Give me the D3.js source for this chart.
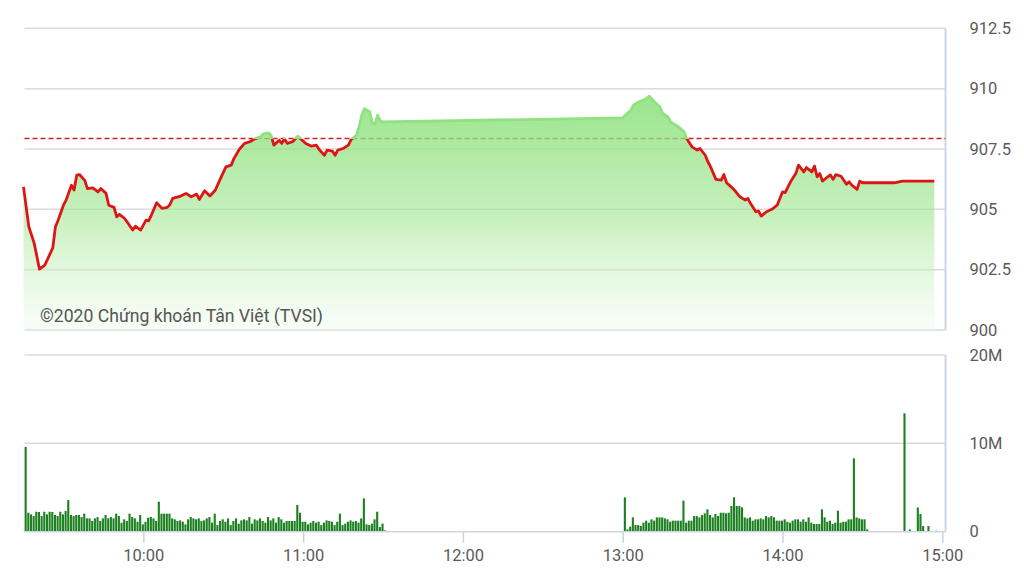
<!DOCTYPE html>
<html><head><meta charset="utf-8">
<script src="https://cdn.jsdelivr.net/npm/d3@7"></script>
<style>body{margin:0;background:#fff}svg{display:block;font-family:Roboto,"Noto Sans",sans-serif}</style>
</head><body><svg id="c" width="1024" height="576"></svg>
<script>
const priceTimes = ["09:15","09:17","09:19","09:21","09:23","09:26","09:27","09:28","09:30","09:31","09:33","09:34","09:35","09:36","09:38","09:39","09:41","09:43","09:44","09:46","09:47","09:49","09:50","09:51","09:53","09:56","09:57","09:59","10:01","10:02","10:03","10:05","10:07","10:09","10:10","10:11","10:14","10:16","10:18","10:20","10:21","10:23","10:25","10:27","10:29","10:31","10:33","10:34","10:36","10:38","10:40","10:42","10:44","10:45","10:47","10:48","10:49","10:51","10:52","10:53","10:54","10:56","10:58","10:59","11:01","11:03","11:05","11:06","11:08","11:09","11:11","11:12","11:13","11:15","11:17","11:18","11:20","11:21","11:22","11:23","11:25","11:26","11:27","11:28","11:29","11:30","13:00","13:03","13:04","13:06","13:09","13:10","13:12","13:14","13:15","13:17","13:18","13:21","13:23","13:24","13:26","13:28","13:29","13:31","13:32","13:33","13:35","13:37","13:38","13:39","13:41","13:42","13:44","13:46","13:47","13:48","13:50","13:51","13:52","13:54","13:56","13:58","14:00","14:01","14:03","14:05","14:06","14:08","14:09","14:11","14:12","14:13","14:14","14:15","14:17","14:18","14:19","14:20","14:22","14:24","14:25","14:26","14:28","14:29","14:30","14:42","14:45","14:57"];
const priceValues = [905.93,904.28,903.60,902.52,902.69,903.40,904.28,904.55,905.17,905.38,906.00,905.80,906.42,906.44,906.20,905.86,905.89,905.72,905.86,905.66,905.17,905.08,904.69,904.79,904.62,904.14,904.30,904.14,904.55,904.52,904.76,905.27,905.04,905.08,905.20,905.45,905.55,905.66,905.52,905.63,905.41,905.77,905.55,905.79,906.28,906.76,906.83,907.10,907.48,907.73,907.80,907.93,908.00,908.12,908.17,908.05,907.66,907.86,907.73,907.93,907.73,907.80,908.03,907.93,907.73,907.62,907.66,907.48,907.24,907.45,907.41,907.24,907.45,907.52,907.66,907.89,908.07,908.41,908.90,909.17,909.04,908.55,908.55,908.90,908.65,908.62,908.79,909.10,909.31,909.45,909.59,909.69,909.45,909.24,908.97,908.83,908.62,908.41,908.21,907.93,907.59,907.45,907.52,907.24,906.97,906.76,906.24,906.21,906.44,906.10,905.90,905.79,905.52,905.38,905.45,905.24,904.90,904.93,904.72,904.90,905.00,905.17,905.72,905.69,906.14,906.48,906.83,906.55,906.73,906.55,906.79,906.35,906.48,906.17,906.35,906.42,906.24,906.44,906.37,906.04,906.14,906.00,905.83,906.17,906.10,906.10,906.17,906.17];
const refPrice = 907.93;

// volume (millions), one bar per minute from the session start
const volMorningStart = "09:15";
const volMorning = [9.6,2.15,1.96,1.77,2.26,2.23,1.77,2.26,1.96,2.26,2.23,1.89,1.77,2.26,1.96,2.34,3.58,1.89,1.77,1.89,1.89,1.66,2.04,1.51,1.51,1.21,1.51,1.66,1.21,1.51,1.89,1.51,1.66,1.51,2.04,1.77,1.02,1.40,1.21,2.04,1.66,1.51,1.13,1.89,0.83,1.13,1.58,1.66,1.51,1.21,3.40,2.04,2.04,2.04,2.04,1.51,1.40,1.21,1.28,1.13,0.83,1.40,1.66,1.51,1.40,1.51,1.21,1.28,1.51,1.66,1.02,2.04,0.75,1.21,1.40,1.13,1.51,0.75,1.21,1.51,0.91,1.28,1.40,1.28,1.66,0.91,1.40,1.28,1.51,1.21,1.02,1.66,1.28,1.51,1.02,1.66,1.40,1.02,1.21,1.21,1.21,1.21,3.02,2.15,1.13,1.13,0.83,1.02,1.21,1.02,1.13,0.75,1.02,1.28,1.21,1.13,0.75,1.13,2.04,0.75,0.91,1.13,1.28,1.13,1.21,1.02,1.51,3.77,0.83,0.75,0.91,1.40,2.26,0.53,0.91,0.15];
const volAfternoonStart = "13:00";
const volAfternoon = [3.89,0.26,0.57,1.62,0.75,0.75,0.64,1.02,1.25,1.02,1.40,1.25,1.62,1.62,1.62,1.51,1.40,1.13,1.25,1.25,1.25,1.25,3.51,1.02,1.25,1.25,1.77,1.77,1.62,1.89,2.08,2.53,1.89,1.62,2.00,1.77,2.15,2.15,2.08,2.15,2.91,3.89,2.91,2.91,2.75,1.62,1.51,1.62,1.25,1.40,1.40,1.51,1.40,1.77,1.62,1.77,1.62,1.25,1.25,1.25,1.40,1.13,1.02,1.25,1.40,1.40,1.13,1.40,1.13,1.62,1.02,0.87,0.87,0.87,2.53,1.62,1.13,1.25,0.87,1.02,2.38,1.02,1.13,1.13,1.40,1.40,8.3,1.62,1.51,1.40,1.40,0.26];
const volLateTimes = ["14:45","14:47","14:50","14:51","14:52","14:54","14:57"];
const volLate = [13.4,0.26,2.75,2.0,0.64,0.64,0.11];

const timeTicks = ["10:00","11:00","12:00","13:00","14:00","15:00"];
const priceTicks = [900,902.5,905,907.5,910,912.5];
const priceTickLabels = ["900","902.5","905","907.5","910","912.5"];
const volTicks = [0,10,20];
const volTickLabels = ["0","10M","20M"];
const watermark = "©2020 Chứng khoán Tân Việt (TVSI)";

const parse = s => { const [h,m] = s.split(":").map(Number); return new Date(2020,0,1,h,m); };
const addMin = (s,k) => new Date(parse(s).getTime() + k*60000);

const L = 24.5, R = 945.5;
const x = d3.scaleTime().domain([parse("09:15"), parse("15:00")]).range([23.5, 942.3]);
const yP = d3.scaleLinear().domain([900, 912.5]).range([330, 28.3]);
const yV = d3.scaleLinear().domain([0, 20]).range([531.7, 355]);

const svg = d3.select("#c");
const defs = svg.append("defs");

const price = priceTimes.map((t,i) => ({t: parse(t), v: priceValues[i]}));
const vols = [
  ...volMorning.map((v,i) => ({t: addMin(volMorningStart,i), v})),
  ...volAfternoon.map((v,i) => ({t: addMin(volAfternoonStart,i), v})),
  ...volLate.map((v,i) => ({t: parse(volLateTimes[i]), v}))
];

// gradients
const ag = defs.append("linearGradient").attr("id","ag").attr("gradientUnits","userSpaceOnUse")
  .attr("x1",0).attr("x2",0).attr("y1",yP(910.5)).attr("y2",yP(900));
ag.append("stop").attr("offset",0).attr("stop-color","#7fdd6d").attr("stop-opacity",0.85);
ag.append("stop").attr("offset",0.55).attr("stop-color","#9fe690").attr("stop-opacity",0.6);
ag.append("stop").attr("offset",1).attr("stop-color","#e8f9e4").attr("stop-opacity",0.3);

const refY = yP(refPrice);
const lg = defs.append("linearGradient").attr("id","lg").attr("gradientUnits","userSpaceOnUse")
  .attr("x1",0).attr("x2",0).attr("y1",0).attr("y2",576);
lg.append("stop").attr("offset",refY/576).attr("stop-color","#8fe27f");
lg.append("stop").attr("offset",refY/576).attr("stop-color","#dd1515");

// price grid
svg.append("g").selectAll("line").data(priceTicks).join("line")
  .attr("x1",L).attr("x2",R).attr("y1",d=>yP(d)).attr("y2",d=>yP(d))
  .attr("stroke", d => d===900 ? "#d3dbe3" : "#dcdcdc").attr("stroke-width",1.5);
svg.append("line").attr("x1",R).attr("x2",R).attr("y1",yP(912.5)).attr("y2",yP(900))
  .attr("stroke","#cdd7e1").attr("stroke-width",2);

// reference dashed line
svg.append("line").attr("x1",L).attr("x2",R).attr("y1",refY).attr("y2",refY)
  .attr("stroke","#d92020").attr("stroke-width",1.5).attr("stroke-dasharray","5,3");

// area
svg.append("path").datum(price)
  .attr("d", d3.area().x(d=>x(d.t)).y0(yP(900)).y1(d=>yP(d.v)))
  .attr("fill","url(#ag)");

// line
svg.append("path").datum(price)
  .attr("d", d3.line().x(d=>x(d.t)).y(d=>yP(d.v)))
  .attr("fill","none").attr("stroke","url(#lg)").attr("stroke-width",2.8).attr("stroke-linejoin","round");

// watermark
svg.append("text").attr("x",40).attr("y",322).attr("font-size",17.6).attr("fill","#555").text(watermark);

// price axis labels
svg.append("g").attr("transform",`translate(${R},0)`)
  .call(d3.axisRight(yP).tickValues(priceTicks).tickFormat((d,i)=>priceTickLabels[i]).tickSize(0).tickPadding(24))
  .call(g=>g.select(".domain").remove())
  .call(g=>g.selectAll("text").attr("font-size",16.5).attr("fill","#5a5a5a").attr("font-family","Roboto"));

// volume grid
svg.append("g").selectAll("line").data(volTicks.filter(d=>d>0)).join("line")
  .attr("x1",L).attr("x2",R).attr("y1",d=>yV(d)).attr("y2",d=>yV(d))
  .attr("stroke","#dcdcdc").attr("stroke-width",1.5);
svg.append("line").attr("x1",R).attr("x2",R).attr("y1",yV(20)).attr("y2",yV(0))
  .attr("stroke","#cdd7e1").attr("stroke-width",2);

// volume bars
svg.append("g").selectAll("rect").data(vols).join("rect")
  .attr("x", d => x(d.t) + 1.1).attr("width", 2.1)
  .attr("y", d => yV(d.v)).attr("height", d => yV(0) - yV(d.v))
  .attr("fill","#1c8020");

// volume axis labels
svg.append("g").attr("transform",`translate(${R},0)`)
  .call(d3.axisRight(yV).tickValues(volTicks).tickFormat((d,i)=>volTickLabels[i]).tickSize(0).tickPadding(24))
  .call(g=>g.select(".domain").remove())
  .call(g=>g.selectAll("text").attr("font-size",16.5).attr("fill","#5a5a5a").attr("font-family","Roboto"));

// time axis
svg.append("g").attr("transform",`translate(0,${yV(0)})`)
  .call(d3.axisBottom(x).tickValues(timeTicks.map(parse)).tickFormat((d,i)=>timeTicks[i]).tickSize(11).tickPadding(7))
  .call(g=>g.select(".domain").remove())
  .call(g=>g.selectAll(".tick line").attr("stroke","#c8d3de").attr("stroke-width",1.5))
  .call(g=>g.selectAll("text").attr("font-size",16.5).attr("fill","#5a5a5a").attr("font-family","Roboto"));
svg.append("line").attr("x1",L).attr("x2",R).attr("y1",yV(0)).attr("y2",yV(0))
  .attr("stroke","#cdd7e1").attr("stroke-width",1.5);
</script></body></html>
